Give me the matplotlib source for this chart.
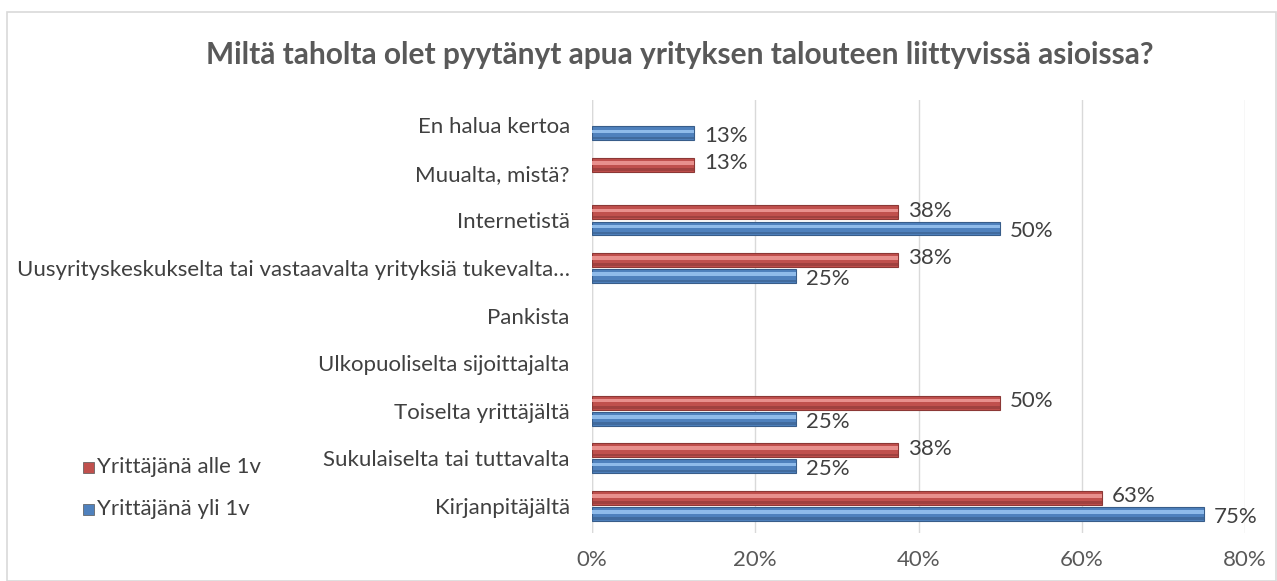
import matplotlib
matplotlib.use("Agg")
import matplotlib.pyplot as plt
from matplotlib.patches import Rectangle

categories = ["Kirjanpitäjältä", "Sukulaiselta tai tuttavalta", "Toiselta yrittäjältä",
              "Ulkopuoliselta sijoittajalta", "Pankista",
              "Uusyrityskeskukselta tai vastaavalta yrityksiä tukevalta…",
              "Internetistä", "Muualta, mistä?", "En halua kertoa"]
yli_1v = [0.75, 0.25, 0.25, 0, 0, 0.25, 0.50, 0, 0.125]
alle_1v = [0.625, 0.375, 0.50, 0, 0, 0.375, 0.375, 0.125, 0]
series_names = ["Yrittäjänä alle 1v", "Yrittäjänä yli 1v"]
xticks = [0, 0.2, 0.4, 0.6, 0.8]
xticklabels = ["0%", "20%", "40%", "60%", "80%"]
title = "Miltä taholta olet pyytänyt apua yrityksen talouteen liittyvissä asioissa?"

plt.rcParams['font.family'] = ['Lato', 'DejaVu Sans']
txt = "#404040"
fs = 16

fig = plt.figure(figsize=(12.77, 5.81), dpi=100)
fig.patches.append(Rectangle((7/1277, 0), 1 - 7/1277 - 0.0005, 1 - 12/581,
                             transform=fig.transFigure, fill=False,
                             edgecolor="#d9d9d9", linewidth=1.2))
ax = fig.add_axes([592/1277, 1 - 533/581, (1245 - 592)/1277, (533 - 100)/581])

h = 0.29
off = 0.17
ys = list(range(len(categories)))
y_red = [y + off for y in ys]
y_blue = [y - off for y in ys]

def pct(v):
    return f"{int(v * 100 + 0.5)}%"

def draw(yv, vals, base, edge, hi):
    pairs = [(y, v) for y, v in zip(yv, vals) if v > 0]
    yy = [p[0] for p in pairs]
    vv = [p[1] for p in pairs]
    ax.barh(yy, vv, height=h, color=base, edgecolor=edge, linewidth=0.8, zorder=3)
    ax.barh([y + h * 0.14 for y in yy], vv, height=h * 0.26, color=hi,
            linewidth=0, zorder=4)
    ax.barh([y - h * 0.34 for y in yy], vv, height=h * 0.18, color=edge,
            linewidth=0, alpha=0.6, zorder=4)

draw(y_red, alle_1v, "#c0504d", "#8c3836", "#e8908d")
draw(y_blue, yli_1v, "#4f81bd", "#385d8a", "#8fbbea")

for y, v in zip(y_red, alle_1v):
    if v > 0:
        ax.text(v + 0.012, y + 0.03, pct(v), va="center", ha="left",
                fontsize=fs, color=txt)
for y, v in zip(y_blue, yli_1v):
    if v > 0:
        ax.text(v + 0.012, y - 0.06, pct(v), va="center", ha="left",
                fontsize=fs, color=txt)

ax.set_xlim(0, 0.8)
ax.set_ylim(-0.57, 8.53)
ax.set_xticks(xticks)
ax.set_xticklabels(xticklabels, fontsize=fs, color="#595959")
ax.set_yticks(ys)
ax.set_yticklabels(categories, fontsize=fs, color=txt)
ax.tick_params(axis="both", length=0)
ax.tick_params(axis="y", pad=16)
ax.tick_params(axis="x", pad=12)
ax.grid(axis="x", color="#d9d9d9", linewidth=1, zorder=0)
ax.axvline(0, color="#d9d9d9", linewidth=1, zorder=1)
for s in ax.spines.values():
    s.set_visible(False)

fig.text(680/1277, 1 - 55/581, title, ha="center", va="center",
         fontsize=21.5, fontweight="bold", color="#595959")

# legend
leg_items = [(series_names[0], "#c0504d", 467), (series_names[1], "#4f81bd", 509)]
for name, col, ypx in leg_items:
    fig.patches.append(Rectangle((83/1277, 1 - (ypx + 6)/581), 11/1277, 11/581,
                                 transform=fig.transFigure, facecolor=col,
                                 edgecolor="#555555", linewidth=0.5))
    fig.text(97/1277, 1 - ypx/581, name, ha="left", va="center",
             fontsize=fs, color=txt)

fig.savefig("out.png", dpi=100)
